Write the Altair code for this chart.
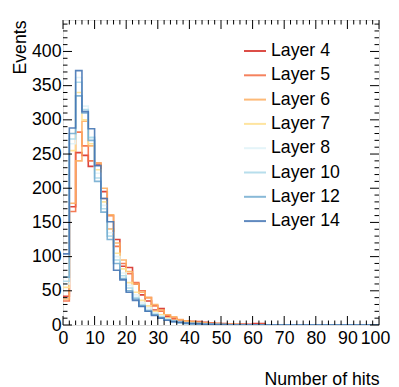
import altair as alt
import pandas as pd

layer_names = ["Layer 4", "Layer 5", "Layer 6", "Layer 7", "Layer 8", "Layer 10", "Layer 12", "Layer 14"]
layer_colors = ["#d73027", "#f46d43", "#fdae61", "#fee090", "#e0f3f8", "#abd9e9", "#74add1", "#4575b4"]

bin_edges = list(range(0, 102, 2))  # 50 bins of width 2, 0..100

layer4 = [42, 173, 252, 248, 232, 234, 195, 140, 125, 86, 84, 60, 44, 35, 22, 24, 12, 9, 7, 6,
          5, 5, 4, 3, 2, 2, 1, 1, 1, 1, 2, 2, 0, 0, 0, 0, 0, 0, 0, 0, 0, 0, 0, 0, 0, 0, 0, 0, 0, 0]
layer5 = [35, 166, 282, 262, 240, 237, 185, 160, 115, 90, 75, 62, 50, 40, 28, 20, 14, 10, 7, 6,
          5, 4, 3, 3, 2, 1, 1, 0, 1, 0, 0, 1, 0, 0, 0, 0, 0, 0, 0, 0, 0, 0, 0, 0, 0, 0, 0, 0, 0, 0]
layer6 = [38, 178, 240, 298, 262, 237, 200, 161, 120, 95, 78, 60, 48, 40, 30, 22, 15, 12, 8, 6,
          5, 4, 3, 2, 2, 1, 1, 1, 0, 0, 0, 0, 0, 0, 0, 0, 0, 0, 0, 0, 0, 0, 0, 0, 0, 0, 0, 0, 0, 0]
layer7 = [55, 255, 340, 300, 265, 227, 180, 140, 105, 82, 62, 48, 36, 28, 20, 15, 10, 7, 5, 4,
          3, 2, 2, 1, 1, 1, 0, 0, 0, 0, 0, 0, 0, 0, 0, 0, 0, 0, 0, 0, 0, 0, 0, 0, 0, 0, 0, 0, 0, 0]
layer8 = [60, 265, 362, 320, 275, 222, 175, 135, 100, 76, 58, 44, 33, 25, 18, 13, 9, 6, 5, 3,
          2, 2, 1, 1, 1, 0, 0, 0, 0, 0, 0, 0, 0, 0, 0, 0, 0, 0, 0, 0, 0, 0, 0, 0, 0, 0, 0, 0, 0, 0]
layer10 = [64, 272, 355, 315, 274, 215, 170, 130, 95, 72, 54, 40, 30, 22, 16, 12, 8, 6, 4, 3,
           2, 2, 1, 1, 0, 0, 0, 0, 0, 0, 0, 0, 0, 0, 0, 0, 0, 0, 0, 0, 0, 0, 0, 0, 0, 0, 0, 0, 0, 0]
layer12 = [70, 280, 335, 310, 270, 210, 165, 125, 90, 68, 50, 38, 28, 20, 15, 10, 7, 5, 3, 2,
           2, 1, 1, 1, 0, 0, 0, 0, 0, 0, 0, 0, 0, 0, 0, 0, 0, 0, 0, 0, 0, 0, 0, 0, 0, 0, 0, 0, 0, 0]
layer14 = [104, 288, 372, 312, 287, 233, 185, 151, 80, 66, 48, 36, 27, 20, 14, 10, 7, 5, 4, 3,
           2, 2, 1, 1, 1, 1, 0, 0, 0, 0, 0, 0, 0, 0, 0, 0, 0, 0, 0, 0, 0, 0, 0, 0, 0, 0, 0, 0, 0, 0]

all_series = [layer4, layer5, layer6, layer7, layer8, layer10, layer12, layer14]

x_major = list(range(0, 101, 10))
x_minor = [v for v in range(0, 101, 2) if v % 10 != 0]
y_major = list(range(0, 401, 50))
y_minor = [v for v in range(0, 441, 10) if v % 50 != 0]

FONT = "Liberation Sans"
FS = 17.7
W, H = 316, 305
YMAX = 446

rows = []
for name, vals in zip(layer_names, all_series):
    for e, v in zip(bin_edges, vals + [vals[-1]]):
        rows.append({"layer": name, "hits": e, "events": v})
df = pd.DataFrame(rows)

xs = alt.Scale(domain=[0, 100], nice=False, zero=False)
ys = alt.Scale(domain=[0, YMAX], nice=False)
cs = alt.Scale(domain=layer_names, range=layer_colors)

x_axis = alt.Axis(values=x_major, title="Number of hits", labelFont=FONT, labelFontSize=FS,
                  labelColor="black", labelPadding=4, ticks=False, domain=False, grid=False,
                  titleFont=FONT, titleFontSize=FS, titleFontWeight="normal", titleColor="black",
                  titleX=W, titleY=59, titleAlign="right", titleBaseline="alphabetic",
                  labelFlush=False, labelOverlap=False,
                  labelOffset={"condition": {"test": "datum.value == 100", "value": -4}, "value": 0})
y_axis = alt.Axis(values=y_major, title="Events", labelFont=FONT, labelFontSize=FS,
                  labelColor="black", labelPadding=2, ticks=False, domain=False, grid=False,
                  titleFont=FONT, titleFontSize=FS, titleFontWeight="normal", titleColor="black",
                  titleAngle=270, titleX=-38, titleY=0, titleAlign="right",
                  titleBaseline="alphabetic", labelFlush=False, labelOverlap=False)

legend = alt.Legend(title=None, orient="none", legendX=180, legendY=19, labelFont=FONT,
                    labelFontSize=FS, labelColor="black", symbolType="stroke", symbolSize=484,
                    symbolStrokeWidth=2, labelOffset=4, rowPadding=3.3, padding=0,
                    symbolOpacity=0.85)

charts = []
for name in layer_names:
    c = (alt.Chart(df).transform_filter(alt.datum.layer == name)
         .mark_line(interpolate="step-after", strokeWidth=1.6, clip=True, opacity=0.9)
         .encode(
             x=alt.X("hits:Q", scale=xs, axis=x_axis),
             y=alt.Y("events:Q", scale=ys, axis=y_axis),
             color=alt.Color("layer:N", scale=cs, legend=legend),
         ))
    charts.append(c)

# inward ticks on all four sides
xmaj = pd.DataFrame({"v": x_major})
xmin = pd.DataFrame({"v": x_minor})
ymaj = pd.DataFrame({"v": y_major})
ymin = pd.DataFrame({"v": y_minor})

def xticks(d, length):
    bottom = alt.Chart(d).mark_rule(color="black", strokeWidth=1).encode(
        x=alt.X("v:Q", scale=xs, axis=x_axis), y=alt.value(H), y2=alt.value(H - length))
    top = alt.Chart(d).mark_rule(color="black", strokeWidth=1).encode(
        x=alt.X("v:Q", scale=xs, axis=x_axis), y=alt.value(0), y2=alt.value(length))
    return [bottom, top]

def yticks(d, length):
    left = alt.Chart(d).mark_rule(color="black", strokeWidth=1).encode(
        y=alt.Y("v:Q", scale=ys, axis=y_axis), x=alt.value(0), x2=alt.value(length))
    right = alt.Chart(d).mark_rule(color="black", strokeWidth=1).encode(
        y=alt.Y("v:Q", scale=ys, axis=y_axis), x=alt.value(W), x2=alt.value(W - length))
    return [left, right]

tick_layers = xticks(xmaj, 9) + xticks(xmin, 4.5) + yticks(ymaj, 9) + yticks(ymin, 4.5)

chart = alt.layer(*charts, *tick_layers).properties(
    width=W, height=H,
    autosize=alt.AutoSizeParams(type="none"),
    padding={"left": 55, "top": 12, "right": 12, "bottom": 62},
).configure_view(stroke="black", strokeWidth=1).configure(background="white")

chart.save("out.html", embed_options={"renderer": "svg", "actions": False})
